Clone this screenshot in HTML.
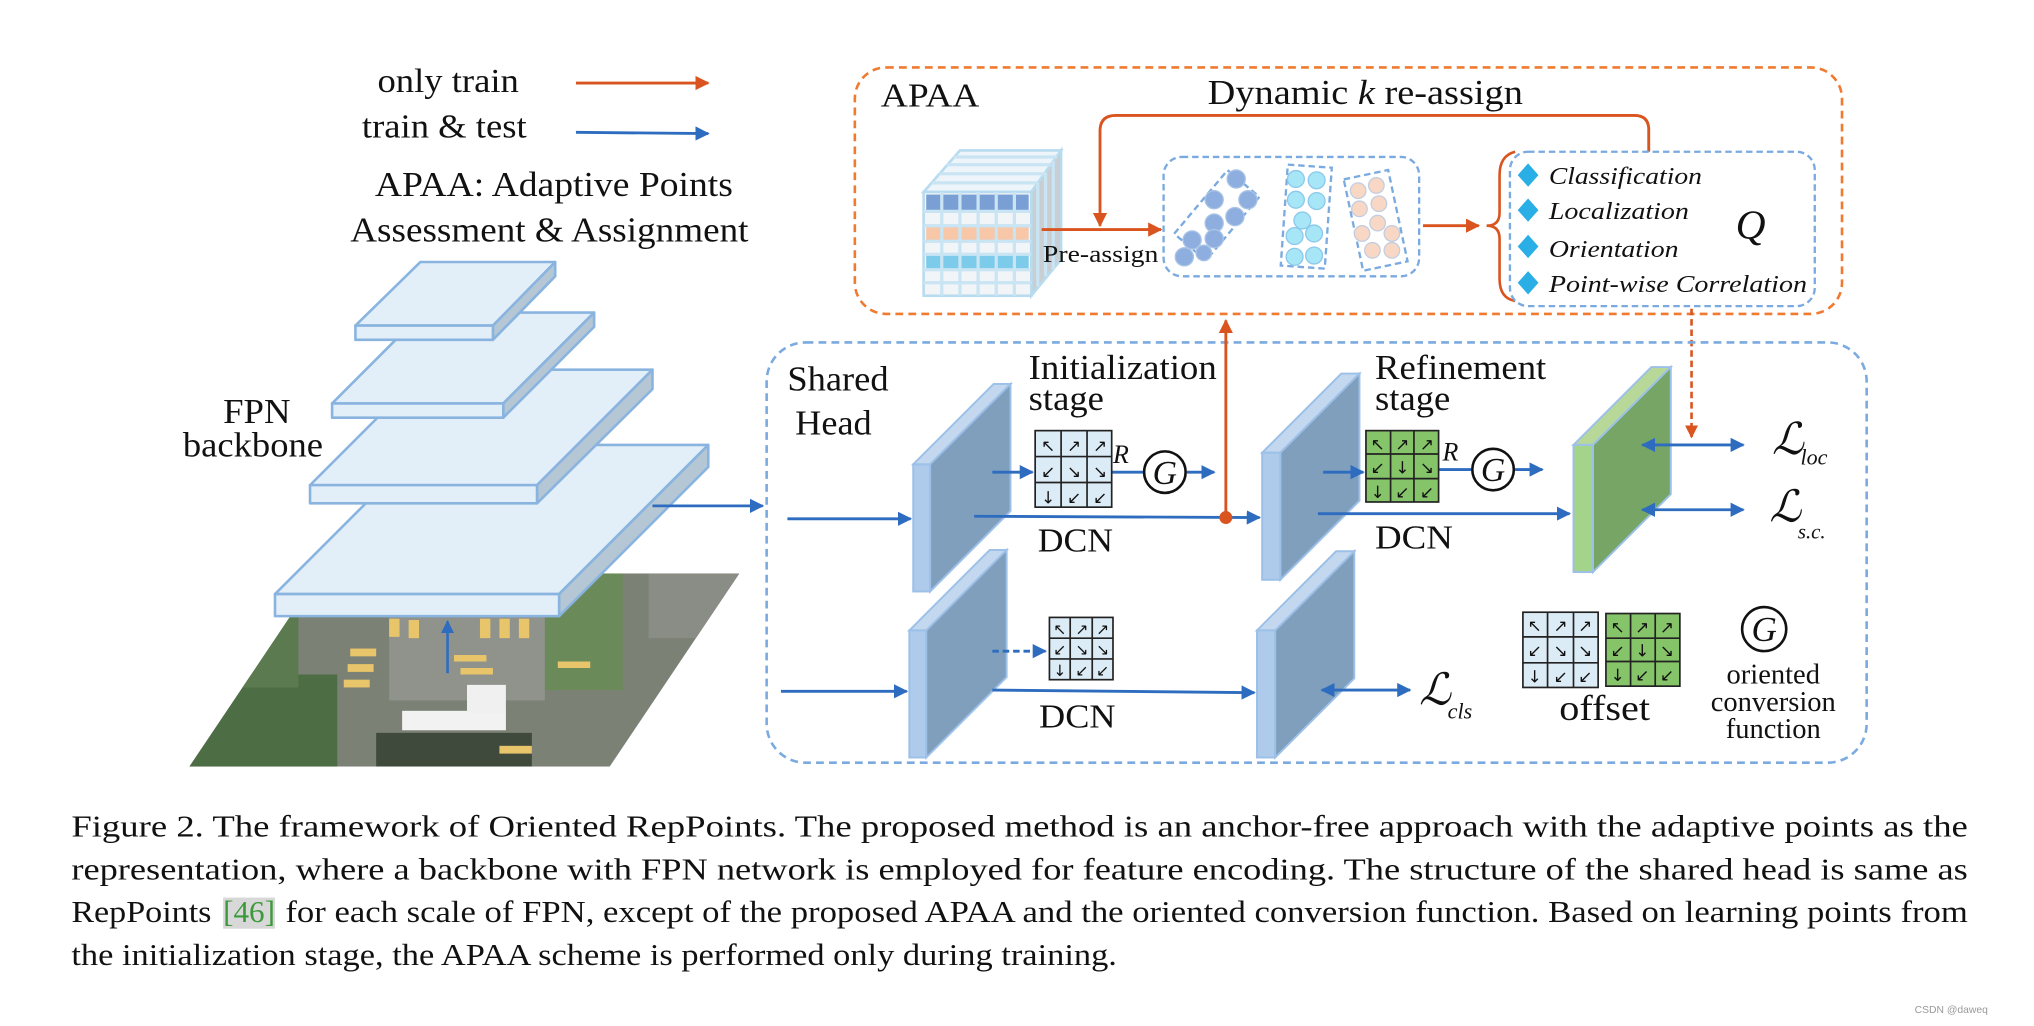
<!DOCTYPE html>
<html><head><meta charset="utf-8">
<style>
html,body{margin:0;padding:0;background:#fff;}
svg{display:block;}
text{font-family:"Liberation Serif","DejaVu Serif",serif;fill:#111;}
.ar{font-family:"DejaVu Sans",sans-serif;font-size:13px;fill:#111;}
</style></head>
<body>
<svg width="2034" height="1026" viewBox="0 0 1568 791" preserveAspectRatio="none" xmlns="http://www.w3.org/2000/svg">
<defs>
<marker id="mb" viewBox="0 0 10 10" refX="9" refY="5" markerWidth="5" markerHeight="5" orient="auto-start-reverse"><path d="M0,0L10,5L0,10z" fill="#2e6cc0"/></marker>
<marker id="mo" viewBox="0 0 10 10" refX="9" refY="5" markerWidth="5" markerHeight="5" orient="auto-start-reverse"><path d="M0,0L10,5L0,10z" fill="#d9541e"/></marker>
<clipPath id="aer"><polygon points="246,442 570,442 470,591 146,591"/></clipPath>
</defs>

<!-- legend -->
<text x="291" y="71" font-size="26" textLength="109" lengthAdjust="spacingAndGlyphs">only train</text>
<line x1="444" y1="64" x2="546" y2="64" stroke="#d9541e" stroke-width="2.2" marker-end="url(#mo)"/>
<text x="279" y="106" font-size="26" textLength="127" lengthAdjust="spacingAndGlyphs">train &amp; test</text>
<line x1="444" y1="102" x2="546" y2="103" stroke="#2e6cc0" stroke-width="2.2" marker-end="url(#mb)"/>
<text x="289" y="151" font-size="27" textLength="276" lengthAdjust="spacingAndGlyphs">APAA: Adaptive Points</text>
<text x="270" y="186" font-size="27" textLength="307" lengthAdjust="spacingAndGlyphs">Assessment &amp; Assignment</text>

<!-- aerial image -->
<g clip-path="url(#aer)">
<rect x="140" y="440" width="440" height="160" fill="#7b8174"/>
<rect x="140" y="520" width="120" height="80" fill="#4d6e44"/>
<rect x="170" y="470" width="60" height="60" fill="#5c7a50"/>
<rect x="420" y="442" width="60" height="90" fill="#6b8a5a"/>
<rect x="500" y="442" width="70" height="50" fill="#8a8d86"/>
<rect x="300" y="470" width="120" height="70" fill="#8f938c"/>
<rect x="310" y="548" width="80" height="15" fill="#f2f2f2"/>
<rect x="360" y="528" width="30" height="22" fill="#f0f0f0"/>
<rect x="290" y="565" width="120" height="26" fill="#3f4a3c"/>
<g fill="#e8c56a"><rect x="300" y="477" width="8" height="14"/><rect x="315" y="478" width="8" height="14"/><rect x="370" y="477" width="8" height="15"/><rect x="385" y="477" width="8" height="15"/><rect x="400" y="477" width="8" height="15"/><rect x="270" y="500" width="20" height="6"/><rect x="268" y="512" width="20" height="6"/><rect x="265" y="524" width="20" height="6"/><rect x="350" y="505" width="25" height="5"/><rect x="355" y="515" width="25" height="5"/><rect x="430" y="510" width="25" height="5"/><rect x="385" y="575" width="25" height="6"/></g>
</g>
<line x1="345" y1="519" x2="345" y2="479" stroke="#2e6cc0" stroke-width="2" marker-end="url(#mb)"/>

<!-- FPN layers -->
<g stroke="#8ab4e0" stroke-width="2" stroke-linejoin="round">
<polygon points="212,458 327,343 546,343 431,458" fill="#e2eef8"/>
<polygon points="431,458 546,343 546,360 431,475" fill="#b5c7d4"/>
<rect x="212" y="458" width="219" height="17" fill="#e2eef8"/>
<polygon points="239,374 328,285 503,285 414,374" fill="#e2eef8"/>
<polygon points="414,374 503,285 503,300 414,388" fill="#b5c7d4"/>
<rect x="239" y="374" width="175" height="14" fill="#e2eef8"/>
<polygon points="256,311 326,241 458,241 388,311" fill="#e2eef8"/>
<polygon points="388,311 458,241 458,252 388,322" fill="#b5c7d4"/>
<rect x="256" y="311" width="132" height="11" fill="#e2eef8"/>
<polygon points="274,251 324,202 428,202 380,251" fill="#e2eef8"/>
<polygon points="380,251 428,202 428,213 380,262" fill="#b5c7d4"/>
<rect x="274" y="251" width="106" height="11" fill="#e2eef8"/>
</g>
<text x="172" y="326" font-size="27" textLength="52" lengthAdjust="spacingAndGlyphs">FPN</text>
<text x="141" y="352" font-size="27" textLength="108" lengthAdjust="spacingAndGlyphs">backbone</text>
<line x1="503" y1="390" x2="588" y2="390" stroke="#2e6cc0" stroke-width="2.2" marker-end="url(#mb)"/>

<!-- APAA box -->
<rect x="659" y="52" width="761" height="190" rx="24" fill="none" stroke="#f07a30" stroke-width="2" stroke-dasharray="6,4"/>
<text x="679" y="82" font-size="26" textLength="76" lengthAdjust="spacingAndGlyphs">APAA</text>
<text x="931" y="80" font-size="27" textLength="243" lengthAdjust="spacingAndGlyphs">Dynamic <tspan font-style="italic">k</tspan> re-assign</text>
<path d="M1271,117 L1271,100 Q1271,89 1260,89 L860,89 Q848,89 848,101 L848,174" fill="none" stroke="#d9541e" stroke-width="2.2" marker-end="url(#mo)"/>

<!-- cube -->
<g stroke="#b8dcef" stroke-width="2">
<polygon points="712,148 740,116 818,116 795,148" fill="#eef5fa"/>
<polygon points="795,148 818,116 818,200 795,228" fill="#c8ced2"/>
<rect x="712" y="148" width="83" height="80" fill="#f2f5f7"/>
</g>
<rect x="714" y="150" width="79" height="12" fill="#7a9fd4"/>
<rect x="714" y="175" width="79" height="10" fill="#f7c7a8"/>
<rect x="714" y="197" width="79" height="10" fill="#7ccbea"/>
<g stroke="#c9e4f3" stroke-width="2.5">
<line x1="726" y1="148" x2="726" y2="228"/><line x1="740" y1="148" x2="740" y2="228"/><line x1="754" y1="148" x2="754" y2="228"/><line x1="768" y1="148" x2="768" y2="228"/><line x1="782" y1="148" x2="782" y2="228"/>
<line x1="712" y1="163" x2="795" y2="163"/><line x1="712" y1="174" x2="795" y2="174"/><line x1="712" y1="186" x2="795" y2="186"/><line x1="712" y1="196" x2="795" y2="196"/><line x1="712" y1="208" x2="795" y2="208"/><line x1="712" y1="218" x2="795" y2="218"/>
<line x1="800" y1="141" x2="800" y2="221"/><line x1="806" y1="133" x2="806" y2="213"/><line x1="812" y1="124" x2="812" y2="208"/>
<line x1="718" y1="141" x2="800" y2="141"/><line x1="724" y1="134" x2="806" y2="134"/><line x1="730" y1="127" x2="810" y2="127"/><line x1="735" y1="121" x2="815" y2="121"/>
</g>
<line x1="803" y1="177" x2="895" y2="177" stroke="#d9541e" stroke-width="2.2" marker-end="url(#mo)"/>
<text x="804" y="202" font-size="19" textLength="89" lengthAdjust="spacingAndGlyphs">Pre-assign</text>

<!-- points box -->
<rect x="897" y="121" width="197" height="92" rx="14" fill="none" stroke="#7aaadf" stroke-width="1.8" stroke-dasharray="5,3"/>
<g transform="rotate(-50 938 166)"><rect x="906" y="150" width="64" height="32" fill="none" stroke="#7aaadf" stroke-width="1.8" stroke-dasharray="5,3"/></g>
<g fill="#8faee0" stroke="#a9c4e6" stroke-width="1"><circle cx="953" cy="138" r="7"/><circle cx="936" cy="154" r="7"/><circle cx="962" cy="154" r="7"/><circle cx="952" cy="167" r="7"/><circle cx="936" cy="172" r="7"/><circle cx="919" cy="185" r="7"/><circle cx="936" cy="184" r="7"/><circle cx="913" cy="198" r="7"/><circle cx="928" cy="195" r="6"/></g>
<g transform="rotate(4 1007 167)"><rect x="990" y="128" width="34" height="78" fill="none" stroke="#7aaadf" stroke-width="1.8" stroke-dasharray="5,3"/></g>
<g fill="#a7e6f6" stroke="#8cc8ea" stroke-width="1"><circle cx="999" cy="138" r="6.5"/><circle cx="1015" cy="139" r="6.5"/><circle cx="999" cy="154" r="6.5"/><circle cx="1015" cy="155" r="6.5"/><circle cx="1004" cy="170" r="6.5"/><circle cx="1013" cy="180" r="6.5"/><circle cx="998" cy="182" r="6.5"/><circle cx="998" cy="198" r="6.5"/><circle cx="1013" cy="197" r="6.5"/></g>
<g transform="rotate(-12 1060 170)"><rect x="1043" y="134" width="35" height="72" fill="none" stroke="#7aaadf" stroke-width="1.8" stroke-dasharray="5,3"/></g>
<g fill="#f8d8c4" stroke="#c3cde0" stroke-width="1"><circle cx="1047" cy="147" r="6"/><circle cx="1061" cy="143" r="6"/><circle cx="1048" cy="161" r="6"/><circle cx="1063" cy="157" r="6"/><circle cx="1062" cy="172" r="6"/><circle cx="1050" cy="180" r="6"/><circle cx="1073" cy="180" r="6"/><circle cx="1058" cy="193" r="6"/><circle cx="1073" cy="193" r="6"/></g>
<line x1="1097" y1="174" x2="1140" y2="174" stroke="#d9541e" stroke-width="2.2" marker-end="url(#mo)"/>
<path d="M1168,117 Q1156,120 1156,135 L1156,164 Q1156,174 1146,174 Q1156,174 1156,184 L1156,215 Q1156,230 1168,232" fill="none" stroke="#d9541e" stroke-width="2"/>

<!-- Q box -->
<rect x="1164" y="117" width="235" height="119" rx="14" fill="none" stroke="#7aaadf" stroke-width="1.8" stroke-dasharray="5,3"/>
<g fill="#2aaee6"><path d="M1178,126l8,9l-8,9l-8,-9z"/><path d="M1178,153l8,9l-8,9l-8,-9z"/><path d="M1178,181l8,9l-8,9l-8,-9z"/><path d="M1178,209l8,9l-8,9l-8,-9z"/></g>
<g font-style="italic" font-size="19">
<text x="1194" y="142" textLength="118" lengthAdjust="spacingAndGlyphs">Classification</text>
<text x="1194" y="169" textLength="108" lengthAdjust="spacingAndGlyphs">Localization</text>
<text x="1194" y="198" textLength="100" lengthAdjust="spacingAndGlyphs">Orientation</text>
<text x="1194" y="225" textLength="199" lengthAdjust="spacingAndGlyphs">Point-wise Correlation</text>
</g>
<text x="1338" y="184" font-size="32" font-style="italic">Q</text>
<line x1="1304" y1="238" x2="1304" y2="337" stroke="#d9541e" stroke-width="2" stroke-dasharray="5,3" marker-end="url(#mo)"/>

<!-- shared head box -->
<rect x="591" y="264" width="848" height="324" rx="30" fill="none" stroke="#7aaadf" stroke-width="2" stroke-dasharray="6,4"/>
<text x="607" y="301" font-size="27" textLength="78" lengthAdjust="spacingAndGlyphs">Shared</text>
<text x="613" y="335" font-size="27" textLength="59" lengthAdjust="spacingAndGlyphs">Head</text>
<text x="793" y="292" font-size="27" textLength="145" lengthAdjust="spacingAndGlyphs">Initialization</text>
<text x="793" y="316" font-size="27" textLength="58" lengthAdjust="spacingAndGlyphs">stage</text>
<text x="1060" y="292" font-size="27" textLength="132" lengthAdjust="spacingAndGlyphs">Refinement</text>
<text x="1060" y="316" font-size="27" textLength="58" lengthAdjust="spacingAndGlyphs">stage</text>

<!-- plates -->
<g stroke="#9cc0e8" stroke-width="1.5">
<polygon points="704,358 766,296 779,296 717,358" fill="#c3d8ee"/>
<polygon points="717,358 779,296 779,394 717,456" fill="#7f9fbc"/>
<rect x="704" y="358" width="13" height="98" fill="#aecbeb"/>
<polygon points="701,486 763,424 776,424 714,486" fill="#c3d8ee"/>
<polygon points="714,486 776,424 776,522 714,584" fill="#7f9fbc"/>
<rect x="701" y="486" width="13" height="98" fill="#aecbeb"/>
<polygon points="973,349 1034,288 1048,288 987,349" fill="#c3d8ee"/>
<polygon points="987,349 1048,288 1048,386 987,447" fill="#7f9fbc"/>
<rect x="973" y="349" width="14" height="98" fill="#aecbeb"/>
<polygon points="969,486 1030,425 1044,425 983,486" fill="#c3d8ee"/>
<polygon points="983,486 1044,425 1044,523 983,584" fill="#7f9fbc"/>
<rect x="969" y="486" width="14" height="98" fill="#aecbeb"/>
<polygon points="1213,343 1273,283 1288,283 1228,343" fill="#b8d89a"/>
<polygon points="1228,343 1288,283 1288,381 1228,441" fill="#76a566"/>
<rect x="1213" y="343" width="15" height="98" fill="#a4d48a"/>
</g>

<!-- arrows in head -->
<g stroke="#2e6cc0" stroke-width="2.2" fill="none">
<line x1="607" y1="400" x2="702" y2="400" marker-end="url(#mb)"/>
<line x1="602" y1="533" x2="699" y2="533" marker-end="url(#mb)"/>
<line x1="765" y1="364" x2="796" y2="364" marker-end="url(#mb)"/>
<line x1="857" y1="364" x2="882" y2="364"/>
<line x1="915" y1="364" x2="936" y2="364" marker-end="url(#mb)"/>
<line x1="751" y1="398" x2="971" y2="399" marker-end="url(#mb)"/>
<line x1="1020" y1="364" x2="1051" y2="364" marker-end="url(#mb)"/>
<line x1="1109" y1="362" x2="1134" y2="362"/>
<line x1="1168" y1="362" x2="1189" y2="362" marker-end="url(#mb)"/>
<line x1="1016" y1="396" x2="1210" y2="396" marker-end="url(#mb)"/>
<line x1="1266" y1="343" x2="1344" y2="343" marker-start="url(#mb)" marker-end="url(#mb)"/>
<line x1="1266" y1="393" x2="1344" y2="393" marker-start="url(#mb)" marker-end="url(#mb)"/>
<line x1="765" y1="502" x2="806" y2="502" stroke-dasharray="5,3" marker-end="url(#mb)"/>
<line x1="765" y1="532" x2="967" y2="534" marker-end="url(#mb)"/>
<line x1="1019" y1="532" x2="1087" y2="532" marker-start="url(#mb)" marker-end="url(#mb)"/>
</g>
<line x1="945" y1="398" x2="945" y2="247" stroke="#d9541e" stroke-width="2.2" marker-end="url(#mo)"/>
<circle cx="945" cy="399" r="5" fill="#d9541e"/>

<!-- init grid -->
<g stroke="#222" stroke-width="1.3" fill="#dcecf6">
<rect x="798" y="332" width="59" height="59"/>
<line x1="818" y1="332" x2="818" y2="391"/><line x1="838" y1="332" x2="838" y2="391"/>
<line x1="798" y1="352" x2="857" y2="352"/><line x1="798" y1="372" x2="857" y2="372"/>
</g>
<g text-anchor="middle">
<text x="808" y="348" class="ar">↖</text><text x="828" y="348" class="ar">↗</text><text x="848" y="348" class="ar">↗</text>
<text x="808" y="368" class="ar">↙</text><text x="828" y="368" class="ar">↘</text><text x="848" y="368" class="ar">↘</text>
<text x="808" y="388" class="ar">↓</text><text x="828" y="388" class="ar">↙</text><text x="848" y="388" class="ar">↙</text>
</g>
<text x="858" y="357" font-size="20" font-style="italic">R</text>
<circle cx="898" cy="364" r="16" fill="#fff" stroke="#111" stroke-width="2"/>
<text x="898" y="373" font-size="26" font-style="italic" text-anchor="middle">G</text>
<text x="800" y="425" font-size="26" textLength="58" lengthAdjust="spacingAndGlyphs">DCN</text>

<!-- green grid -->
<g stroke="#222" stroke-width="1.3" fill="#86c46a">
<rect x="1053" y="332" width="56" height="55"/>
<line x1="1072" y1="332" x2="1072" y2="387"/><line x1="1090" y1="332" x2="1090" y2="387"/>
<line x1="1053" y1="350" x2="1109" y2="350"/><line x1="1053" y1="369" x2="1109" y2="369"/>
</g>
<g text-anchor="middle">
<text x="1062" y="347" class="ar">↖</text><text x="1081" y="347" class="ar">↗</text><text x="1100" y="347" class="ar">↗</text>
<text x="1062" y="365" class="ar">↙</text><text x="1081" y="365" class="ar">↓</text><text x="1100" y="365" class="ar">↘</text>
<text x="1062" y="384" class="ar">↓</text><text x="1081" y="384" class="ar">↙</text><text x="1100" y="384" class="ar">↙</text>
</g>
<text x="1112" y="355" font-size="20" font-style="italic">R</text>
<circle cx="1151" cy="362" r="16" fill="#fff" stroke="#111" stroke-width="2"/>
<text x="1151" y="371" font-size="26" font-style="italic" text-anchor="middle">G</text>
<text x="1060" y="423" font-size="26" textLength="60" lengthAdjust="spacingAndGlyphs">DCN</text>

<!-- small grid bottom -->
<g stroke="#222" stroke-width="1.3" fill="#dcecf6">
<rect x="809" y="476" width="49" height="48"/>
<line x1="825" y1="476" x2="825" y2="524"/><line x1="842" y1="476" x2="842" y2="524"/>
<line x1="809" y1="492" x2="858" y2="492"/><line x1="809" y1="508" x2="858" y2="508"/>
</g>
<g text-anchor="middle">
<text x="817" y="489" class="ar" style="font-size:12px">↖</text><text x="834" y="489" class="ar" style="font-size:12px">↗</text><text x="850" y="489" class="ar" style="font-size:12px">↗</text>
<text x="817" y="505" class="ar" style="font-size:12px">↙</text><text x="834" y="505" class="ar" style="font-size:12px">↘</text><text x="850" y="505" class="ar" style="font-size:12px">↘</text>
<text x="817" y="521" class="ar" style="font-size:12px">↓</text><text x="834" y="521" class="ar" style="font-size:12px">↙</text><text x="850" y="521" class="ar" style="font-size:12px">↙</text>
</g>
<text x="801" y="561" font-size="26" textLength="59" lengthAdjust="spacingAndGlyphs">DCN</text>

<!-- losses -->
<text x="1366" y="350" font-size="34" font-style="italic">ℒ</text>
<text x="1388" y="358" font-size="17" font-style="italic">loc</text>
<text x="1364" y="402" font-size="34" font-style="italic">ℒ</text>
<text x="1386" y="415" font-size="16" font-style="italic">s.c.</text>
<text x="1094" y="543" font-size="34" font-style="italic">ℒ</text>
<text x="1116" y="554" font-size="17" font-style="italic">cls</text>

<!-- legend grids -->
<g stroke="#222" stroke-width="1.3" fill="#dcecf6">
<rect x="1174" y="472" width="58" height="58"/>
<line x1="1193" y1="472" x2="1193" y2="530"/><line x1="1213" y1="472" x2="1213" y2="530"/>
<line x1="1174" y1="491" x2="1232" y2="491"/><line x1="1174" y1="511" x2="1232" y2="511"/>
</g>
<g text-anchor="middle">
<text x="1183" y="487" class="ar">↖</text><text x="1203" y="487" class="ar">↗</text><text x="1222" y="487" class="ar">↗</text>
<text x="1183" y="506" class="ar">↙</text><text x="1203" y="506" class="ar">↘</text><text x="1222" y="506" class="ar">↘</text>
<text x="1183" y="526" class="ar">↓</text><text x="1203" y="526" class="ar">↙</text><text x="1222" y="526" class="ar">↙</text>
</g>
<g stroke="#222" stroke-width="1.3" fill="#86c46a">
<rect x="1238" y="473" width="57" height="56"/>
<line x1="1257" y1="473" x2="1257" y2="529"/><line x1="1276" y1="473" x2="1276" y2="529"/>
<line x1="1238" y1="492" x2="1295" y2="492"/><line x1="1238" y1="510" x2="1295" y2="510"/>
</g>
<g text-anchor="middle">
<text x="1247" y="488" class="ar">↖</text><text x="1266" y="488" class="ar">↗</text><text x="1285" y="488" class="ar">↗</text>
<text x="1247" y="506" class="ar">↙</text><text x="1266" y="506" class="ar">↓</text><text x="1285" y="506" class="ar">↘</text>
<text x="1247" y="525" class="ar">↓</text><text x="1266" y="525" class="ar">↙</text><text x="1285" y="525" class="ar">↙</text>
</g>
<text x="1202" y="555" font-size="28" textLength="70" lengthAdjust="spacingAndGlyphs">offset</text>
<circle cx="1360" cy="485" r="17" fill="#fff" stroke="#111" stroke-width="2"/>
<text x="1360" y="494" font-size="27" font-style="italic" text-anchor="middle">G</text>
<g font-size="22" text-anchor="middle">
<text x="1367" y="527">oriented</text>
<text x="1367" y="548">conversion</text>
<text x="1367" y="569">function</text>
</g>

<!-- caption -->
<g font-size="24">
<text x="55" y="645" textLength="1462" lengthAdjust="spacingAndGlyphs">Figure 2.  The framework of Oriented RepPoints.  The proposed method is an anchor-free approach with the adaptive points as the</text>
<text x="55" y="678" textLength="1462" lengthAdjust="spacingAndGlyphs">representation, where a backbone with FPN network is employed for feature encoding.  The structure of the shared head is same as</text>
<text x="55" y="711" textLength="108" lengthAdjust="spacingAndGlyphs">RepPoints</text>
<rect x="172" y="692" width="40" height="24" fill="#d8d8d8"/>
<text x="172" y="711" textLength="40" lengthAdjust="spacingAndGlyphs" style="fill:#3c9a3c">[46]</text>
<text x="220" y="711" textLength="1297" lengthAdjust="spacingAndGlyphs">for each scale of FPN, except of the proposed APAA and the oriented conversion function. Based on learning points from</text>
<text x="55" y="744" textLength="806" lengthAdjust="spacingAndGlyphs">the initialization stage, the APAA scheme is performed only during training.</text>
</g>
<text x="1476" y="781" font-size="8" style="font-family:'Liberation Sans',sans-serif;fill:#999">CSDN @daweq</text>
</svg>
</body></html>
